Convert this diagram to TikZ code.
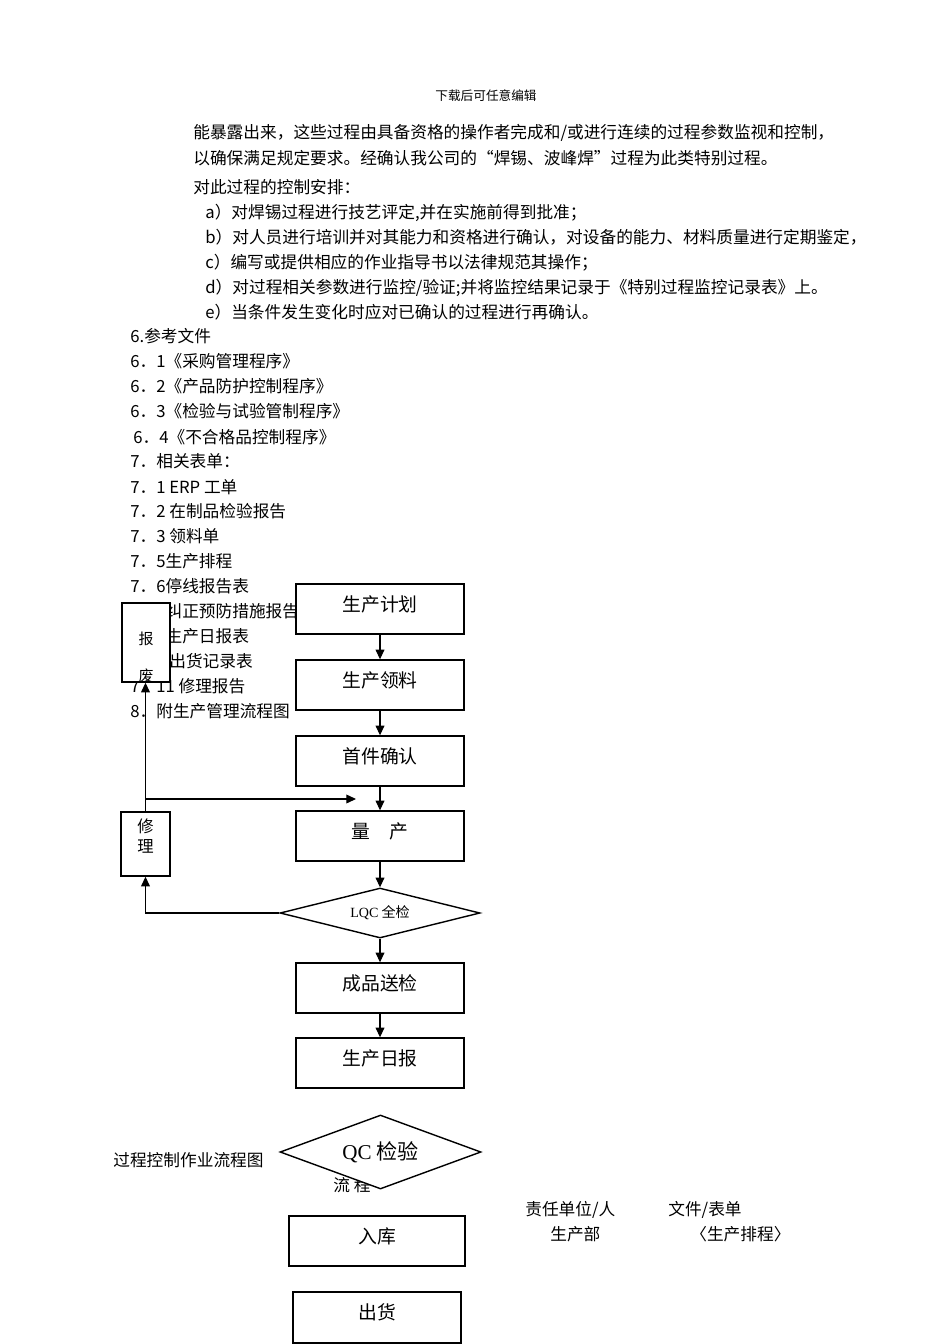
\documentclass[tikz,border=0pt]{standalone}
\usepackage{fontspec}
\usepackage{tikz}
\usetikzlibrary{arrows.meta,shapes.geometric}
\setmainfont{Noto Sans CJK SC}
\newfontfamily\latinserif{Liberation Serif}
\newcommand{\bodyfs}{\fontsize{9.5pt}{11pt}\selectfont}
\newcommand{\headfs}{\fontsize{7.2pt}{8pt}\selectfont}
\newcommand{\flowfs}{\fontsize{10.7pt}{12pt}\selectfont}
\newcommand{\sidefs}{\fontsize{8.5pt}{11.4pt}\selectfont}
\newcommand{\repairfs}{\fontsize{9.3pt}{11.4pt}\selectfont}
\tikzset{>={Triangle[length=5.5pt,width=5pt]}}
\tikzset{
  para/.style={anchor=base west, inner sep=0pt, font=\bodyfs},
  flowbox/.style={draw, fill=white, line width=0.8pt, minimum width=3.36cm, minimum height=1cm,
    inner sep=0pt, text height=0.3cm, text depth=0.22cm, font=\flowfs},
  decision/.style={draw, diamond, fill=white, line width=0.8pt, inner sep=0pt, aspect=4},
  sidebox/.style={draw, fill=white, line width=0.8pt, inner sep=0pt, align=center, font=\sidefs},
  flow/.style={->, line width=0.6pt}
}

\begin{document}
\begin{tikzpicture}[x=0.02cm, y=-0.02cm]
  \useasboundingbox (0,0) rectangle (950,1344);

  % page text
  \node[anchor=base, inner sep=0pt, font=\headfs] (head) at (486,101) {下载后可任意编辑};
  \node[para] (p1) at (193,139) {能暴露出来，这些过程由具备资格的操作者完成和/或进行连续的过程参数监视和控制，};
  \node[para] (p2) at (193,165) {以确保满足规定要求。经确认我公司的“焊锡、波峰焊”过程为此类特别过程。};
  \node[para] (p3) at (193,194) {对此过程的控制安排：};
  \node[para] (pa) at (205,219) {a）对焊锡过程进行技艺评定,并在实施前得到批准；};
  \node[para] (pb) at (205,244) {b）对人员进行培训并对其能力和资格进行确认，对设备的能力、材料质量进行定期鉴定，};
  \node[para] (pc) at (205,269) {c）编写或提供相应的作业指导书以法律规范其操作；};
  \node[para] (pd) at (205,294) {d）对过程相关参数进行监控/验证;并将监控结果记录于《特别过程监控记录表》上。};
  \node[para] (pe) at (205,319) {e）当条件发生变化时应对已确认的过程进行再确认。};
  \node[para] (r0) at (130,343) {6.参考文件};
  \node[para] (r1) at (130,368) {6．1《采购管理程序》};
  \node[para] (r2) at (130,393) {6．2《产品防护控制程序》};
  \node[para] (r3) at (130,418) {6．3《检验与试验管制程序》};
  \node[para] (r4) at (133,443) {6．4《不合格品控制程序》};
  \node[para] (f0) at (130,467) {7．相关表单：};
  \node[para] (f1) at (130,493) {7．1 ERP 工单};
  \node[para] (f2) at (130,517) {7．2 在制品检验报告};
  \node[para] (f3) at (130,542) {7．3 领料单};
  \node[para] (f5) at (130,567) {7．5生产排程};
  \node[para] (f6) at (130,592) {7．6停线报告表};
  \node[para] (f7) at (130,617) {7．7纠正预防措施报告};
  \node[para] (f8) at (130,642) {7．8生产日报表};
  \node[para] (f9) at (130,667) {7．9 出货记录表};
  \node[para] (f11) at (130,692) {7．11 修理报告};
  \node[para] (s8) at (130,717) {8．附生产管理流程图};
  \node[para] (title) at (113,1166) {过程控制作业流程图};
  \node[para] (flowlbl) at (333,1191) {流 程};
  \node[para] (dept) at (525,1215) {责任单位/人};
  \node[para] (docs) at (668,1215) {文件/表单};
  \node[para] (prod) at (550,1240) {生产部};
  \node[para] (sched) at (690,1240) {〈生产排程〉};

  % flow chart
  \node[flowbox] (plan) at (380,609) {生产计划};
  \node[flowbox] (pick) at (380,685) {生产领料};
  \node[flowbox] (first) at (380,761) {首件确认};
  \node[flowbox] (mass) at (380,836) {量　产};
  \node[decision, minimum width=4cm, minimum height=1cm, font=\fontsize{8pt}{9pt}\selectfont]
    (lqc) at (380,913) {{\latinserif LQC} 全检};
  \node[flowbox] (send) at (380,988) {成品送检};
  \node[flowbox] (daily) at (380,1063) {生产日报};
  \node[decision, minimum width=4.02cm, minimum height=1.48cm, font=\fontsize{12pt}{13pt}\selectfont]
    (qc) at (380.5,1152) {{\latinserif QC} 检验};
  \node[flowbox, minimum width=3.52cm] (store) at (377,1241) {入库};
  \node[flowbox, minimum height=1.02cm] (ship) at (377,1317.5) {出货};

  \node[sidebox, minimum width=0.96cm, minimum height=1.58cm] (scrap) at (146,642.5) {};
  \node[inner sep=0pt, font=\sidefs] (scrapA) at (146,639) {报};
  \node[inner sep=0pt, font=\sidefs] (scrapB) at (146,676) {废};
  \node[sidebox, minimum width=0.98cm, minimum height=1.28cm, font=\repairfs,
    text depth=0.33cm] (repair) at (145.5,844) {修\\理};

  \draw[flow] (plan) -- (pick);
  \draw[flow] (pick) -- (first);
  \draw[flow] (first) -- (mass);
  \draw[flow] (mass) -- (lqc);
  \draw[flow] (lqc) -- (send);
  \draw[flow] (send) -- (daily);
  \draw[flow] (lqc.west) -| (repair.south);
  \draw[flow] (repair.north) -- (repair.north |- scrap.south);
  \coordinate (branch) at (145.5,799);
  \coordinate (back) at (356,799);
  \draw[flow] (branch) -- (back);
\end{tikzpicture}
\end{document}
